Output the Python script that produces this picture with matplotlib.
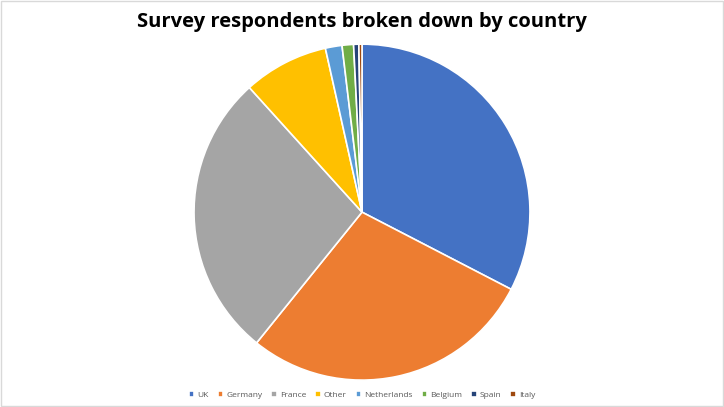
import matplotlib.pyplot as plt
from matplotlib.patches import Rectangle

# Respondent share by country (percent)
countries = ["UK", "Germany", "France", "Other", "Netherlands", "Belgium", "Spain", "Italy"]
shares = [32.6, 28.2, 27.5, 8.2, 1.6, 1.1, 0.5, 0.3]
colors = ["#4472C4", "#ED7D31", "#A5A5A5", "#FFC000", "#5B9BD5", "#70AD47", "#264478", "#9E480E"]

fig = plt.figure(figsize=(7.24, 4.07), dpi=100)
ax = fig.add_axes([0.268, 0.066, 0.464, 0.8256])

wedges, _ = ax.pie(shares, colors=colors, startangle=90, counterclock=False,
                   wedgeprops=dict(edgecolor="white", linewidth=1.2))
ax.set_xlim(-1, 1)
ax.set_ylim(-1, 1)
ax.set_aspect("equal")

fig.suptitle("Survey respondents broken down by country", y=0.97,
             fontsize=14.5, fontweight="bold", family="Open Sans")

leg = fig.legend(wedges, countries, loc="lower center", bbox_to_anchor=(0.5, 0.002),
                 ncol=len(countries), frameon=False,
                 handlelength=0.65, handleheight=0.65, handletextpad=0.35, columnspacing=1.1,
                 prop={"family": "Open Sans", "size": 6})
for t in leg.get_texts():
    t.set_color("#595959")

# light frame around the chart area
fig.patches.append(Rectangle((0.002, 0.003), 0.996, 0.994, transform=fig.transFigure,
                             fill=False, edgecolor="#D9D9D9", linewidth=1))

plt.savefig("out.png", dpi=100)
plt.close()
